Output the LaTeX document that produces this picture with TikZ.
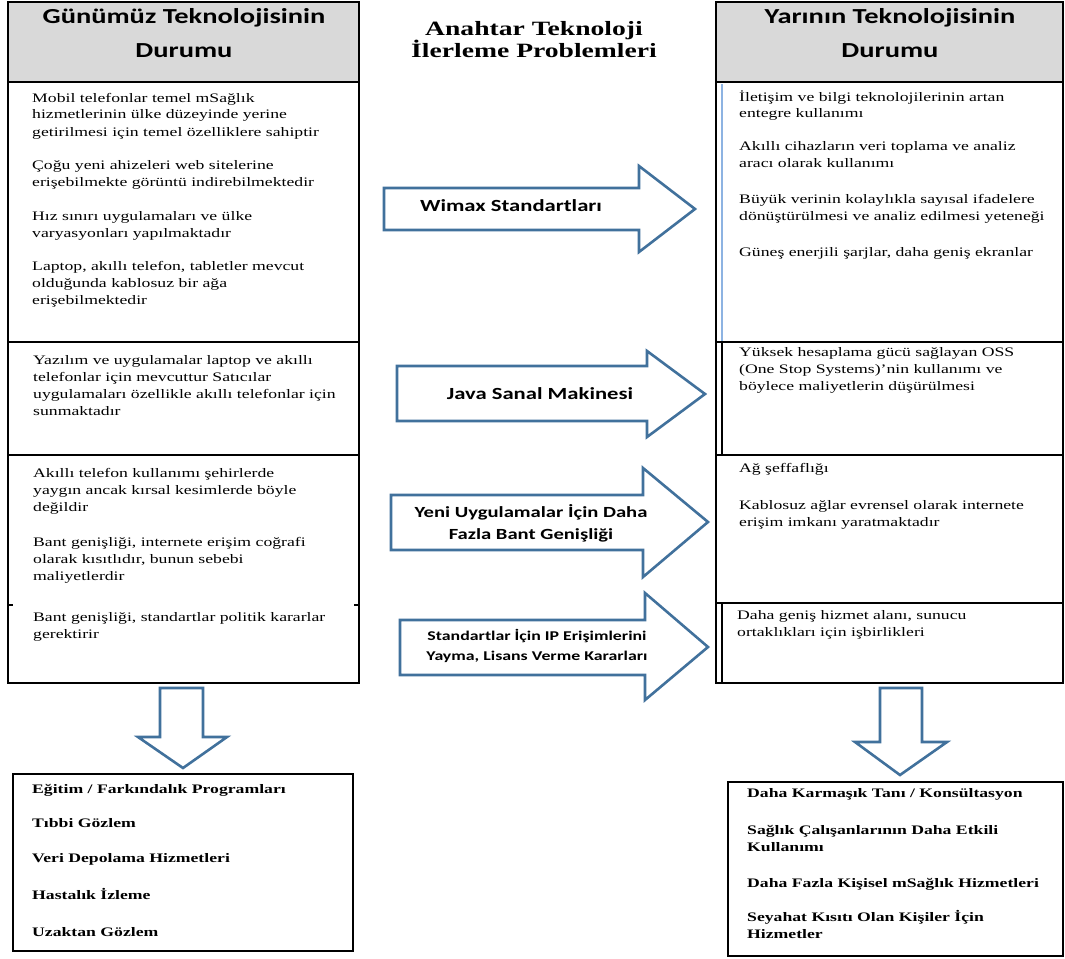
\documentclass[tikz,border=0pt]{standalone}
\usepackage{fontspec}
\newfontfamily\tnrS[FakeStretch=1.36]{Liberation Serif}
\newfontfamily\calibS[FakeStretch=1.33]{Carlito}
\definecolor{hdrgray}{HTML}{D9D9D9}
\definecolor{arrowblue}{HTML}{41719C}
\definecolor{innerblue}{HTML}{8DB3E2}
% multi-line block whose baseline is the first line's baseline
\newcommand\mlines[1]{\vtop{\halign{##\hfil\cr#1\crcr}}}
\begin{document}
\begin{tikzpicture}[x=1pt,y=-1pt,
  colline/.style={draw=black,line width=1.6pt},
  hdrbox/.style={fill=hdrgray,draw=black,line width=1.6pt},
  blockarrow/.style={draw=arrowblue,line width=2.6pt,fill=white,line join=miter},
  bodytxt/.style={anchor=base west,inner sep=0pt,font=\tnrS\fontsize{13}{17}\selectfont},
  boldtxt/.style={anchor=base west,inner sep=0pt,font=\tnrS\bfseries\fontsize{13}{17}\selectfont},
  hdrtxt/.style={anchor=base,inner sep=0pt,font=\calibS\bfseries\fontsize{21.4}{26}\selectfont},
  titletxt/.style={anchor=base,inner sep=0pt,font=\tnrS\bfseries\fontsize{20.3}{22}\selectfont},
  lbltxt/.style={anchor=base,inner sep=0pt,font=\calibS\bfseries\fontsize{#1}{20}\selectfont},
  lbltxt/.default=17]
\useasboundingbox (0,0) rectangle (1065,958);
\fill[white] (0,0) rectangle (1065,958);

% ---------- left column ----------
\draw[hdrbox] (8,2) rectangle (359,82);
\draw[colline] (8,82) rectangle (359,683);
\draw[colline] (8,342) -- (359,342);
\draw[colline] (8,455) -- (359,455);
\draw[colline] (8,605) -- (13,605);
\draw[colline] (354,605) -- (359,605);
\node[hdrtxt] (lh1) at (184,24) {Günümüz Teknolojisinin};
\node[hdrtxt] (lh2) at (184,57) {Durumu};

\node[bodytxt] (p1) at (32,102) {\mlines{Mobil telefonlar temel mSağlık\cr hizmetlerinin ülke düzeyinde yerine\cr getirilmesi için temel özelliklere sahiptir}};
\node[bodytxt] (p2) at (32,169) {\mlines{Çoğu yeni ahizeleri web sitelerine\cr erişebilmekte görüntü indirebilmektedir}};
\node[bodytxt] (p3) at (32,220) {\mlines{Hız sınırı uygulamaları ve ülke\cr varyasyonları yapılmaktadır}};
\node[bodytxt] (p4) at (32,270) {\mlines{Laptop, akıllı telefon, tabletler mevcut\cr olduğunda kablosuz bir ağa\cr erişebilmektedir}};
\node[bodytxt] (p5) at (33,364) {\mlines{Yazılım ve uygulamalar laptop ve akıllı\cr telefonlar için mevcuttur Satıcılar\cr uygulamaları özellikle akıllı telefonlar için\cr sunmaktadır}};
\node[bodytxt] (p6) at (33,477) {\mlines{Akıllı telefon kullanımı şehirlerde\cr yaygın ancak kırsal kesimlerde böyle\cr değildir}};
\node[bodytxt] (p7) at (33,546) {\mlines{Bant genişliği, internete erişim coğrafi\cr olarak kısıtlıdır, bunun sebebi\cr maliyetlerdir}};
\node[bodytxt] (p8) at (33,621) {\mlines{Bant genişliği, standartlar politik kararlar\cr gerektirir}};

% ---------- right column ----------
\draw[hdrbox] (716,2) rectangle (1063,82);
\draw[colline] (716,82) rectangle (1063,683);
\draw[colline] (716,342) -- (1063,342);
\draw[colline] (716,455) -- (1063,455);
\draw[colline] (716,603) -- (1063,603);
\draw[innerblue,line width=1.3pt] (722,84) -- (722,341);
\draw[black,line width=1.2pt] (722,343) -- (722,454);
\draw[black,line width=1.2pt] (722,604) -- (722,682);
\node[hdrtxt] (rh1) at (890,24) {Yarının Teknolojisinin};
\node[hdrtxt] (rh2) at (890,57) {Durumu};

\node[bodytxt] (r1) at (739,101) {\mlines{İletişim ve bilgi teknolojilerinin artan\cr entegre kullanımı}};
\node[bodytxt] (r2) at (739,150) {\mlines{Akıllı cihazların veri toplama ve analiz\cr aracı olarak kullanımı}};
\node[bodytxt] (r3) at (739,203) {\mlines{Büyük verinin kolaylıkla sayısal ifadelere\cr dönüştürülmesi ve analiz edilmesi yeteneği}};
\node[bodytxt] (r4) at (739,256) {Güneş enerjili şarjlar, daha geniş ekranlar};
\node[bodytxt] (r5) at (739,356) {\mlines{Yüksek hesaplama gücü sağlayan OSS\cr (One Stop Systems)’nin kullanımı ve\cr böylece maliyetlerin düşürülmesi}};
\node[bodytxt] (r6) at (739,472) {Ağ şeffaflığı};
\node[bodytxt] (r7) at (739,509) {\mlines{Kablosuz ağlar evrensel olarak internete\cr erişim imkanı yaratmaktadır}};
\node[bodytxt] (r8) at (737,619) {\mlines{Daha geniş hizmet alanı, sunucu\cr ortaklıkları için işbirlikleri}};

% ---------- middle title ----------
\node[titletxt] (t1) at (534,36) {Anahtar Teknoloji};
\node[titletxt] (t2) at (534,58) {İlerleme Problemleri};

% ---------- block arrows ----------
\draw[blockarrow] (384,188) -- (639,188) -- (639,166) -- (695,209) -- (639,252) -- (639,230) -- (384,230) -- cycle;
\node[lbltxt] (a1) at (511,211) {Wimax Standartları};

\draw[blockarrow] (397,366) -- (647,366) -- (647,351) -- (705,394) -- (647,437) -- (647,421) -- (397,421) -- cycle;
\node[lbltxt] (a2) at (540,399) {Java Sanal Makinesi};

\draw[blockarrow] (391,495) -- (643,495) -- (643,468) -- (708,522) -- (643,577) -- (643,550) -- (391,550) -- cycle;
\node[lbltxt=15.5] (a3a) at (531,517) {Yeni Uygulamalar İçin Daha};
\node[lbltxt=15.5] (a3b) at (531,539) {Fazla Bant Genişliği};

\draw[blockarrow] (400,620) -- (645,620) -- (645,593) -- (708,647) -- (645,700) -- (645,675) -- (400,675) -- cycle;
\node[lbltxt=13.4] (a4a) at (537,640) {Standartlar İçin IP Erişimlerini};
\node[lbltxt=13.4] (a4b) at (537,660) {Yayma, Lisans Verme Kararları};

% ---------- down arrows ----------
\draw[blockarrow] (160,688) -- (203,688) -- (203,737) -- (227,737) -- (183,768) -- (138,737) -- (160,737) -- cycle;
\draw[blockarrow] (880,688) -- (922,688) -- (922,742) -- (947,742) -- (900,775) -- (855,742) -- (880,742) -- cycle;

% ---------- bottom boxes ----------
\draw[colline,line width=1.4pt] (13,774) rectangle (353,951);
\node[boldtxt] (b1) at (32,793) {Eğitim / Farkındalık Programları};
\node[boldtxt] (b2) at (32,827) {Tıbbi Gözlem};
\node[boldtxt] (b3) at (32,862) {Veri Depolama Hizmetleri};
\node[boldtxt] (b4) at (32,899) {Hastalık İzleme};
\node[boldtxt] (b5) at (32,936) {Uzaktan Gözlem};

\draw[colline,line width=1.4pt] (728,782) rectangle (1063,956);
\node[boldtxt] (c1) at (747,797) {Daha Karmaşık Tanı / Konsültasyon};
\node[boldtxt] (c2) at (747,834) {\mlines{Sağlık Çalışanlarının Daha Etkili\cr Kullanımı}};
\node[boldtxt] (c3) at (747,887) {Daha Fazla Kişisel mSağlık Hizmetleri};
\node[boldtxt] (c4) at (747,921) {\mlines{Seyahat Kısıtı Olan Kişiler İçin\cr Hizmetler}};
\end{tikzpicture}
\end{document}
